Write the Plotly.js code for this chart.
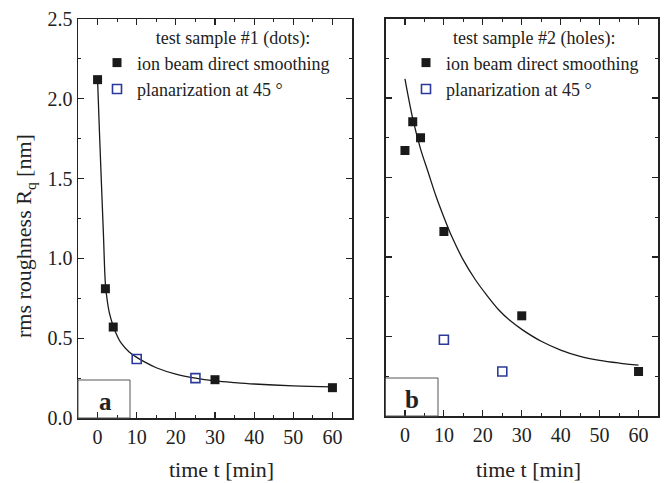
<!DOCTYPE html>
<html>
<head>
<meta charset="utf-8">
<script src="https://cdn.plot.ly/plotly-3.0.1.min.js"></script>
<style>html,body{margin:0;padding:0;background:#fff;}#chart{width:667px;height:483px;}</style>
</head>
<body>
<div id="chart"></div>
<script>
// Panel a: test sample #1 (dots)
const timeA_smooth = [0, 2, 4, 30, 60];
const rqA_smooth = [2.12, 0.81, 0.57, 0.24, 0.19];
const timeA_planar = [10, 25];
const rqA_planar = [0.37, 0.25];
const timeA_fit = [0, 0.5, 1, 1.5, 2, 2.5, 3, 4, 5, 6, 8, 10, 12, 15, 20, 25, 30, 35, 40, 50, 60];
const rqA_fit = [2.12, 1.78, 1.46, 1.15, 0.84, 0.73, 0.66, 0.575, 0.515, 0.47, 0.415, 0.38, 0.352, 0.315, 0.275, 0.25, 0.233, 0.222, 0.213, 0.201, 0.195];

// Panel b: test sample #2 (holes)
const timeB_smooth = [0, 2, 4, 10, 30, 60];
const rqB_smooth = [1.67, 1.85, 1.75, 1.16, 0.63, 0.28];
const timeB_planar = [10, 25];
const rqB_planar = [0.48, 0.28];
const timeB_fit = [0, 2, 4, 6, 8, 10, 12, 15, 18, 21, 24, 27, 30, 35, 40, 45, 50, 55, 60];
const rqB_fit = [2.12, 1.87, 1.68, 1.53, 1.38, 1.25, 1.13, 0.98, 0.86, 0.76, 0.67, 0.6, 0.545, 0.47, 0.415, 0.375, 0.35, 0.333, 0.32];

const xTicks = [0, 10, 20, 30, 40, 50, 60];
const yTicks = [0.0, 0.5, 1.0, 1.5, 2.0, 2.5];
const yTickText = ['0.0', '0.5', '1.0', '1.5', '2.0', '2.5'];

const legendTitleA = 'test sample #1 (dots):';
const legendTitleB = 'test sample #2 (holes):';
const nameSmooth = 'ion beam direct smoothing';
const namePlanar = 'planarization at 45 °';

const FONT = '"Liberation Serif", "Times New Roman", serif';
const BLACK = '#1a1a1a';
const BLUE = '#2b3a9a';

const traces = [
  {x: timeA_fit, y: rqA_fit, mode: 'lines', line: {color: BLACK, width: 1.3, shape: 'spline'}, showlegend: false, xaxis: 'x', yaxis: 'y', hoverinfo: 'skip'},
  {x: timeA_smooth, y: rqA_smooth, mode: 'markers', name: nameSmooth, marker: {symbol: 'square', size: 9, color: BLACK}, xaxis: 'x', yaxis: 'y', legend: 'legend'},
  {x: timeA_planar, y: rqA_planar, mode: 'markers', name: namePlanar, marker: {symbol: 'square-open', size: 9, color: BLUE, line: {width: 1.6, color: BLUE}}, xaxis: 'x', yaxis: 'y', legend: 'legend'},
  {x: timeB_fit, y: rqB_fit, mode: 'lines', line: {color: BLACK, width: 1.3, shape: 'spline'}, showlegend: false, xaxis: 'x2', yaxis: 'y2', hoverinfo: 'skip'},
  {x: timeB_smooth, y: rqB_smooth, mode: 'markers', name: nameSmooth, marker: {symbol: 'square', size: 9, color: BLACK}, xaxis: 'x2', yaxis: 'y2', legend: 'legend2'},
  {x: timeB_planar, y: rqB_planar, mode: 'markers', name: namePlanar, marker: {symbol: 'square-open', size: 9, color: BLUE, line: {width: 1.6, color: BLUE}}, xaxis: 'x2', yaxis: 'y2', legend: 'legend2'}
];

function xax(domain) {
  return {
    domain: domain, range: [-5, 65], tickvals: xTicks, ticks: 'inside', ticklen: 6, tickwidth: 1.2, tickcolor: '#222',
    minor: {dtick: 5, tick0: 0, ticks: 'inside', ticklen: 3, tickwidth: 1, tickcolor: '#222'},
    showline: true, linecolor: '#222', linewidth: 1.5, mirror: 'allticks', showgrid: false, zeroline: false,
    tickfont: {family: FONT, size: 20, color: '#222'}
  };
}
function yax(domain, labels, anchor) {
  return {
    domain: domain, range: [0, 2.5], anchor: anchor, tickvals: yTicks, ticktext: yTickText, showticklabels: labels,
    ticks: 'inside', ticklen: 6, tickwidth: 1.2, tickcolor: '#222',
    minor: {dtick: 0.25, tick0: 0, ticks: 'inside', ticklen: 3, tickwidth: 1, tickcolor: '#222'},
    showline: true, linecolor: '#222', linewidth: 1.5, mirror: 'allticks', showgrid: false, zeroline: false,
    tickfont: {family: FONT, size: 20, color: '#222'}
  };
}

const W = 667, H = 483;
const legendCommon = {
  xanchor: 'left', yanchor: 'top', bgcolor: 'rgba(0,0,0,0)', borderwidth: 0,
  font: {family: FONT, size: 18, color: '#222'}, tracegroupgap: 0, itemwidth: 30
};
const PAD_A = '\u00a0'.repeat(11) + '\u2009\u2009';
const PAD_B = '\u00a0'.repeat(10);

function ann(text, x, y, size, extra) {
  return Object.assign({text: text, xref: 'paper', yref: 'paper', x: x / W, y: 1 - y / H, xanchor: 'center', yanchor: 'middle',
    showarrow: false, font: {family: FONT, size: size, color: '#222'}}, extra || {});
}

const layout = {
  width: W, height: H,
  margin: {l: 0, r: 0, t: 0, b: 0},
  paper_bgcolor: '#fff', plot_bgcolor: '#fff',
  font: {family: FONT, color: '#222'},
  xaxis: xax([78 / W, 352 / W]),
  yaxis: yax([1 - 418 / H, 1 - 19 / H], true, 'x'),
  xaxis2: Object.assign(xax([385.5 / W, 658 / W]), {anchor: 'y2'}),
  yaxis2: yax([1 - 416 / H, 1 - 18.5 / H], false, 'x2'),
  legend: Object.assign({}, legendCommon, {x: 97 / W, y: 1 - 21 / H,
    title: {text: PAD_A + legendTitleA, side: 'top', font: {family: FONT, size: 18, color: '#222'}}}),
  legend2: Object.assign({}, legendCommon, {x: 406 / W, y: 1 - 21 / H,
    title: {text: PAD_B + legendTitleB, side: 'top', font: {family: FONT, size: 18, color: '#222'}}}),
  shapes: [
    {type: 'rect', xref: 'paper', yref: 'paper', x0: 78 / W, x1: 130 / W, y0: 1 - 418 / H, y1: 1 - 380 / H, line: {color: '#555', width: 1}},
    {type: 'rect', xref: 'paper', yref: 'paper', x0: 385.5 / W, x1: 438 / W, y0: 1 - 416 / H, y1: 1 - 378 / H, line: {color: '#555', width: 1}}
  ],
  annotations: [
    ann('<b>a</b>', 105, 401, 25),
    ann('<b>b</b>', 412, 399, 25),
    ann('time t [min]', 221, 469, 22),
    ann('time t [min]', 528, 469, 22),
    ann('rms roughness R<sub>q</sub> [nm]', 25, 236, 22, {textangle: -90})
  ]
};

Plotly.newPlot('chart', traces, layout, {staticPlot: true, displayModeBar: false});
</script>
</body>
</html>
